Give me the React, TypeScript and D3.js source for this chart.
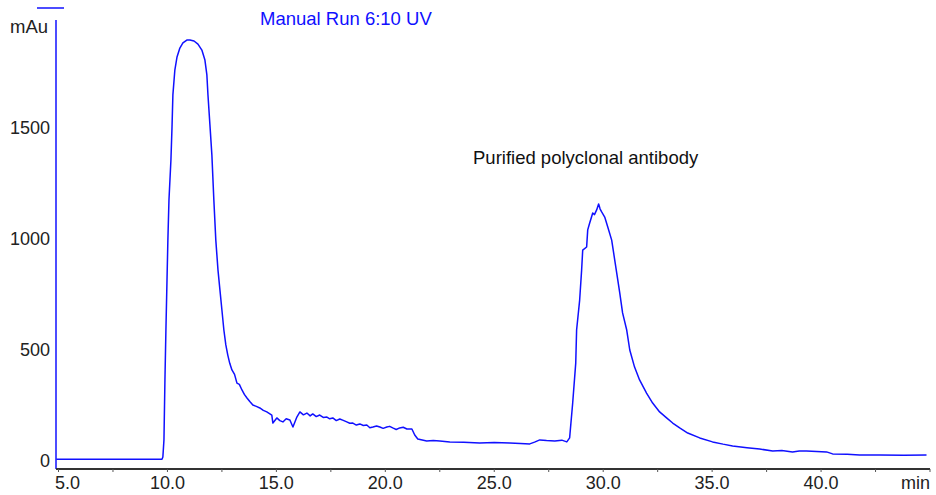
import React from "react";
import * as d3 from "d3";

// UV trace (time in min, absorbance in mAu)
const times = [
  4.9, 9.75, 9.79, 9.84, 9.885, 9.93, 9.98, 10.02, 10.07, 10.16, 10.21, 10.25,
  10.34, 10.44, 10.57, 10.71, 10.89, 11.03, 11.22, 11.4, 11.58, 11.72, 11.81,
  11.86, 11.95, 12.04, 12.13, 12.22, 12.32, 12.41, 12.5, 12.59, 12.68, 12.77,
  12.86, 12.96, 13.08, 13.19, 13.3, 13.42, 13.53, 13.65, 13.78, 13.92, 14.08,
  14.24, 14.4, 14.56, 14.79, 14.84, 15.02, 15.16, 15.3, 15.45, 15.62, 15.76,
  15.94, 16.08, 16.24, 16.4, 16.55, 16.67, 16.83, 16.99, 17.15, 17.32, 17.45,
  17.59, 17.75, 17.91, 18.07, 18.23, 18.37, 18.51, 18.67, 18.83, 18.99, 19.15,
  19.29, 19.43, 19.6, 19.75, 19.9, 20.07, 20.2, 20.34, 20.5, 20.66, 20.82,
  20.99, 21.22, 21.35, 21.49, 21.9, 22.2, 22.5, 22.96, 23.6, 24.33, 25.0,
  25.71, 26.2, 26.63, 26.85, 27.09, 27.4, 27.78, 28.1, 28.33, 28.46, 28.6,
  28.74, 28.78, 28.92, 29.01, 29.06, 29.24, 29.29, 29.38, 29.52, 29.6, 29.7,
  29.79, 29.86, 29.93, 30.07, 30.21, 30.39, 30.48, 30.62, 30.76, 30.89, 31.08,
  31.22, 31.44, 31.67, 31.99, 32.27, 32.59, 32.91, 33.19, 33.51, 33.88, 34.43,
  35.02, 35.5, 35.94, 36.6, 37.18, 37.78, 38.2, 38.69, 39.0, 39.33, 39.8,
  40.25, 40.53, 41.2, 41.77, 42.68, 43.8, 44.84,
];
const mAu = [
  8, 8, 18, 95, 365, 590, 815, 995, 1176, 1356, 1505, 1649,
  1761, 1820, 1860, 1883, 1896, 1896, 1892, 1878, 1851, 1806, 1739,
  1649, 1514, 1378, 1176, 995, 860, 770, 680, 590, 523, 477,
  440, 410, 390, 351, 345, 320, 300, 284, 268, 252, 246,
  239, 228, 221, 207, 171, 194, 182, 176, 190, 185, 153,
  198, 221, 208, 216, 203, 212, 200, 207, 196, 198, 190,
  194, 182, 189, 183, 176, 170, 171, 162, 167, 160, 162,
  150, 153, 158, 153, 147, 153, 156, 149, 142, 149, 152,
  144, 144, 117, 99, 90, 92, 90, 86, 84, 81, 83,
  81, 79, 77, 85, 95, 92, 90, 94, 86, 104, 261,
  441, 590, 725, 860, 950, 964, 1041, 1072, 1117, 1110, 1131,
  1158, 1135, 1122, 1099, 1054, 995, 937, 847, 757, 667, 590,
  500, 423, 365, 306, 261, 221, 194, 171, 149, 126, 104,
  86, 76, 68, 60, 54, 45, 47, 41, 45, 45, 43,
  41, 32, 30, 27, 27, 26, 27,
];

const yTicks = [0, 500, 1000, 1500];
const xTicks = [5, 10, 15, 20, 25, 30, 35, 40];
const xMinorStep = 2.5;

const runLabel = "Manual Run 6:10 UV";
const peakLabel = "Purified polyclonal antibody";
const yUnit = "mAu";
const xUnit = "min";

const width = 936;
const height = 495;
const left = 56;
const right = 930;
const axisY = 469;
const font = "'Liberation Sans', Arial, sans-serif";
const blue = "#1010ff";

const App = () => {
  const x = d3.scaleLinear().domain([4.885, 45]).range([left, right]);
  const y = d3.scaleLinear().domain([0, 1500]).range([461, 128]);

  const points: [number, number][] = times.map((t, i) => [t, mAu[i]]);
  const line = d3
    .line<[number, number]>()
    .x((d) => x(d[0]))
    .y((d) => y(d[1]));

  const minor = d3.range(5, 45.01, xMinorStep);

  return (
    <svg
      width={width}
      height={height}
      style={{ position: "absolute", left: 0, top: 0, background: "#fff" }}
      fontFamily={font}
    >
      {/* legend stroke + run name */}
      <line x1={37} x2={64} y1={8} y2={8} stroke={blue} strokeWidth={1.5} />
      <text x={260} y={25} fontSize={18.5} fill={blue}>
        {runLabel}
      </text>
      <text x={10} y={33} fontSize={18.5} fill="#222">
        {yUnit}
      </text>

      {/* y axis */}
      <line x1={left} x2={left} y1={20} y2={axisY} stroke={blue} strokeWidth={1.5} />
      {yTicks.map((v) => (
        <text
          key={v}
          x={50}
          y={y(v)}
          dy="0.35em"
          textAnchor="end"
          fontSize={18}
          fill="#222"
        >
          {v}
        </text>
      ))}

      {/* x axis */}
      <line x1={left} x2={right} y1={axisY} y2={axisY} stroke="#333" strokeWidth={2} />
      {minor.map((v) => (
        <line
          key={v}
          x1={x(v)}
          x2={x(v)}
          y1={axisY}
          y2={axisY + 3}
          stroke="#555"
          strokeWidth={1}
        />
      ))}
      {xTicks.map((v, i) => (
        <text
          key={v}
          x={i === 0 ? left - 1 : x(v)}
          y={489}
          textAnchor={i === 0 ? "start" : "middle"}
          fontSize={18}
          fill="#222"
        >
          {v.toFixed(1)}
        </text>
      ))}
      <text x={930} y={489} textAnchor="end" fontSize={18} fill="#222">
        {xUnit}
      </text>

      {/* trace */}
      <path
        d={line(points) ?? ""}
        fill="none"
        stroke={blue}
        strokeWidth={1.5}
        strokeLinejoin="round"
      />

      <text x={473} y={164} fontSize={18.5} fill="#111">
        {peakLabel}
      </text>
    </svg>
  );
};

export default App;
